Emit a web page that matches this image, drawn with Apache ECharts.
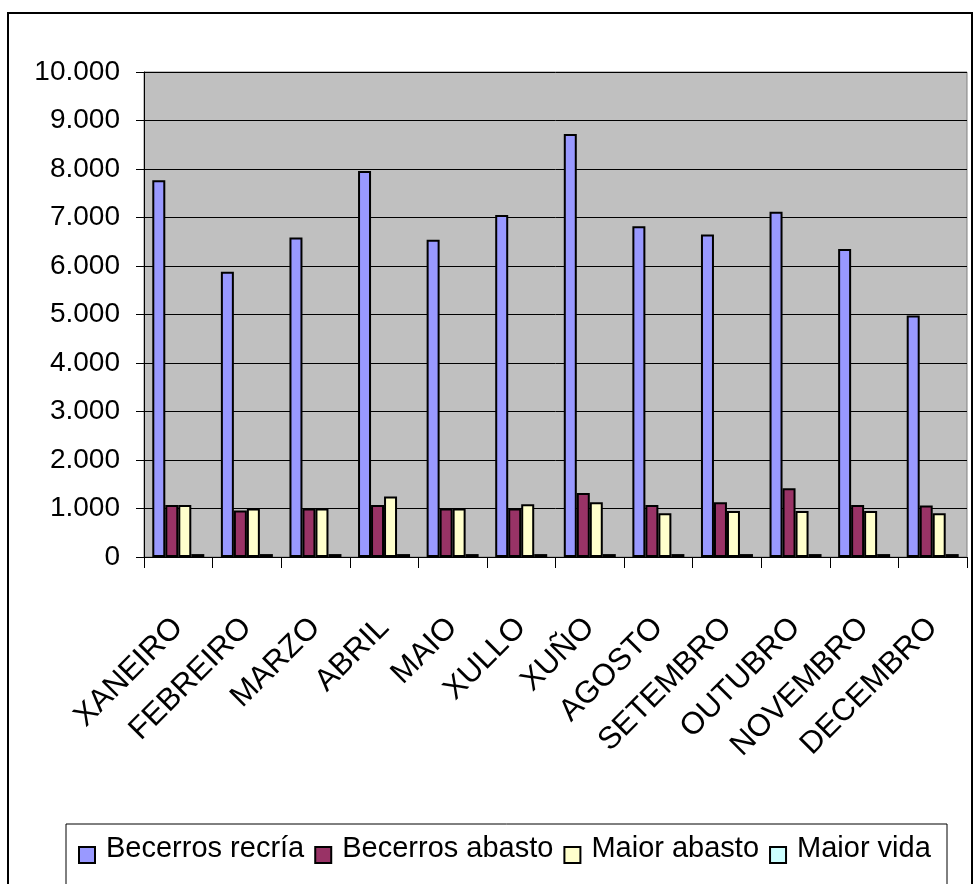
<!DOCTYPE html>
<html>
<head>
<meta charset="utf-8">
<script src="https://cdn.jsdelivr.net/npm/echarts@6/dist/echarts.min.js"></script>
<style>
html,body{margin:0;padding:0;background:#fff;}
#chart{width:975px;height:884px;}
</style>
</head>
<body>
<div id="chart"></div>
<script>
const months = ['XANEIRO','FEBREIRO','MARZO','ABRIL','MAIO','XULLO','XUÑO','AGOSTO','SETEMBRO','OUTUBRO','NOVEMBRO','DECEMBRO'];
const seriesNames = ['Becerros recría','Becerros abasto','Maior abasto','Maior vida'];
const becerrosRecria = [7770, 5880, 6590, 7960, 6540, 7050, 8720, 6820, 6650, 7120, 6350, 4980];
const becerrosAbasto = [1070, 960, 1000, 1070, 1000, 1000, 1320, 1070, 1130, 1420, 1070, 1060];
const maiorAbasto = [1070, 1000, 1000, 1250, 1000, 1090, 1130, 900, 950, 950, 950, 900];
const maiorVida = [60, 60, 60, 60, 60, 60, 60, 60, 60, 60, 60, 60];
const yTicks = [0, 1000, 2000, 3000, 4000, 5000, 6000, 7000, 8000, 9000, 10000];

const colors = ['#9999FF', '#993366', '#FFFFCC', '#CCFFFF'];
const allValues = [becerrosRecria, becerrosAbasto, maiorAbasto, maiorVida];

function fmt(v) {
  if (v === 0) return '0';
  const s = String(Math.round(v));
  return s.replace(/\B(?=(\d{3})+(?!\d))/g, '.');
}

const chart = echarts.init(document.getElementById('chart'), null, {renderer: 'canvas'});
const legendIcon = 'path://M0,0M0,13L16,13L16,29L0,29ZM22,0';

chart.setOption({
  animation: false,
  backgroundColor: '#ffffff',
  graphic: [
    {type: 'rect', shape: {x: 8, y: 13, width: 964, height: 900}, style: {fill: 'none', stroke: '#000', lineWidth: 2}, z: -1},
    {type: 'rect', shape: {x: 66, y: 824, width: 881, height: 100}, style: {fill: 'none', stroke: '#000', lineWidth: 1}, z: -1}
  ],
  grid: {
    left: 144, right: 8, top: 72, bottom: 327,
    show: true, backgroundColor: '#C0C0C0', borderColor: '#808080', borderWidth: 1
  },
  legend: {
    left: 78, top: 833, padding: 0,
    itemGap: 10, itemWidth: 22, itemHeight: 29,
    icon: legendIcon,
    itemStyle: {borderColor: '#000', borderWidth: 2},
    textStyle: {fontFamily: "'Liberation Sans', Arial, sans-serif", fontSize: 29, color: '#000'},
    data: seriesNames
  },
  xAxis: {
    type: 'category',
    data: months,
    axisLine: {lineStyle: {color: '#000', width: 1}},
    axisTick: {show: true, length: 11, lineStyle: {color: '#000'}},
    axisLabel: {
      interval: 0, rotate: 45, margin: 66,
      fontFamily: "'Liberation Sans', Arial, sans-serif", fontSize: 31, color: '#000'
    },
    splitLine: {show: false}
  },
  yAxis: {
    type: 'value',
    min: yTicks[0], max: yTicks[yTicks.length - 1], interval: yTicks[1] - yTicks[0],
    axisLine: {show: true, lineStyle: {color: '#000', width: 1}},
    axisTick: {show: true, length: 8, lineStyle: {color: '#000'}},
    axisLabel: {
      margin: 24, formatter: fmt,
      fontFamily: "'Liberation Sans', Arial, sans-serif", fontSize: 28, color: '#000'
    },
    splitLine: {show: true, lineStyle: {color: '#000', width: 1}}
  },
  series: seriesNames.map((name, i) => ({
    name: name,
    type: 'bar',
    data: allValues[i],
    barWidth: 13,
    barGap: '0%',
    itemStyle: {color: colors[i], borderColor: '#000', borderWidth: 2}
  }))
});
</script>
</body>
</html>
